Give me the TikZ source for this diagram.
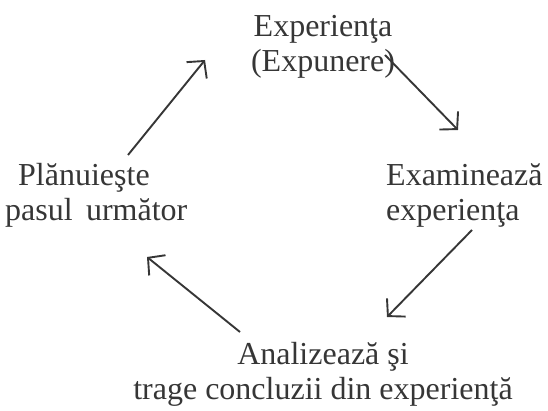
\documentclass[tikz,border=0pt]{standalone}
\usepackage{fontspec}
\setmainfont{Liberation Serif}
\usetikzlibrary{arrows.meta,positioning}
\definecolor{inkgray}{HTML}{363636}

\begin{document}
\begin{tikzpicture}[x=1pt, y=1pt,
  stage/.style={inner sep=0pt, text=inkgray, align=center,
    font=\fontsize{32}{35}\selectfont},
  cycle/.style={draw=inkgray, line width=1.9pt,
    -{Straight Barb[length=12pt, width=26pt, line width=1.9pt]}}]
  \useasboundingbox (0,0) rectangle (548,410);

  % Stages
  \node[stage] (exp) at (323,363) {Experienţa\\(Expunere)};
  \node[stage, align=left, anchor=west] (exam) at (386,215) {Examinează\\experienţa};
  \node[stage] (anal) at (323,36) {Analizează şi\\trage concluzii din experienţă};
  \node[stage, align=left, anchor=west] (plan) at (5,215) {\hspace*{13pt}Plănuieşte\\pasul\ \,următor};

  % Cycle
  \draw[cycle] ([shift={(123pt,40pt)}]plan.west) -- ([shift={(-118pt,-13pt)}]exp.center);
  \draw[cycle] ([shift={(62pt,-8pt)}]exp.center) -- ([shift={(72pt,65pt)}]exam.west);
  \draw[cycle] ([shift={(86pt,-35pt)}]exam.west) -- ([shift={(64pt,57pt)}]anal.center);
  \draw[cycle] ([shift={(-83pt,42pt)}]anal.center) -- ([shift={(142pt,-62pt)}]plan.west);
\end{tikzpicture}
\end{document}
